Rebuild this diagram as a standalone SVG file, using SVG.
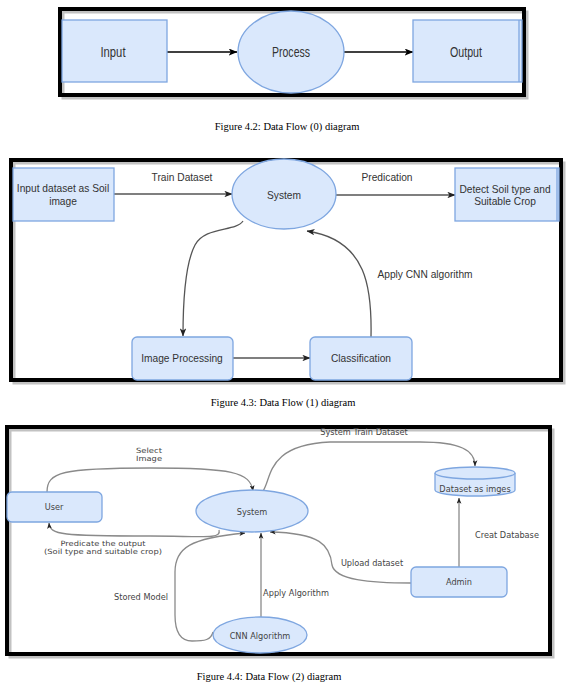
<svg xmlns="http://www.w3.org/2000/svg" width="570" height="686" viewBox="0 0 570 686">
<defs>
<style>
.frame{fill:none;stroke:#000;stroke-width:4}
.shadow{fill:none;stroke:#9a9a9a;stroke-width:3;opacity:0.6}
.box{fill:#dae8fc;stroke:#7ea6e0;stroke-width:1.3}
.t1{font-family:"Liberation Sans",Arial,sans-serif;font-size:14px;fill:#333;text-anchor:middle;dominant-baseline:central}
.t2{font-family:"Liberation Sans",Arial,sans-serif;font-size:10.2px;fill:#333;text-anchor:middle;dominant-baseline:central}
.t3{font-family:"DejaVu Sans",Verdana,sans-serif;font-size:8.2px;fill:#444;text-anchor:middle;dominant-baseline:central}
.t4{font-family:"DejaVu Sans",Verdana,sans-serif;font-size:7.2px;fill:#444;text-anchor:middle;dominant-baseline:central}
.cap{font-family:"Liberation Serif","Times New Roman",serif;font-size:10.5px;fill:#000;text-anchor:middle;dominant-baseline:central}
.e1{fill:none;stroke:#000;stroke-width:1.3}
.e2{fill:none;stroke:#555;stroke-width:1.3}
.e3{fill:none;stroke:#8a8a8a;stroke-width:1.3}
</style>
<marker id="m1" viewBox="0 0 10 8" refX="9.5" refY="4" markerWidth="9" markerHeight="7" markerUnits="userSpaceOnUse" orient="auto"><path d="M0,0 L10,4 L0,8 L2.5,4 z" fill="#000"/></marker>
<marker id="m2" viewBox="0 0 10 8" refX="9.5" refY="4" markerWidth="8" markerHeight="6.5" markerUnits="userSpaceOnUse" orient="auto"><path d="M0,0 L10,4 L0,8 L2.5,4 z" fill="#222"/></marker>
<marker id="m3" viewBox="0 0 10 8" refX="9.5" refY="4" markerWidth="6" markerHeight="5" markerUnits="userSpaceOnUse" orient="auto"><path d="M0,0 L10,4 L0,8 L2.5,4 z" fill="#222"/></marker>
</defs>
<rect width="570" height="686" fill="#fff"/>

<!-- Figure 4.2 -->
<g id="frame1">
<rect class="shadow" x="63" y="12" width="464" height="86"/>
<rect class="frame" x="60" y="9" width="464" height="86"/>
</g>
<g id="connectors1">
<path class="e1" d="M167,52 L237,52" marker-end="url(#m1)"/>
<path class="e1" d="M344,52 L413,52" marker-end="url(#m1)"/>
</g>
<g id="input0"><rect class="box" x="62" y="20" width="105" height="62"/><text class="t1" x="113" y="52" textLength="25" lengthAdjust="spacingAndGlyphs">Input</text></g>
<g id="process0"><ellipse class="box" cx="291" cy="52" rx="53" ry="41"/><text class="t1" x="291" y="52" textLength="38" lengthAdjust="spacingAndGlyphs">Process</text></g>
<g id="output0"><rect class="box" x="413" y="20" width="109" height="62"/><line x1="519" y1="20" x2="519" y2="82" stroke="#7ea6e0" stroke-width="1.3"/><text class="t1" x="466" y="52" textLength="32" lengthAdjust="spacingAndGlyphs">Output</text></g>
<text class="cap" x="287" y="126">Figure 4.2: Data Flow (0) diagram</text>

<!-- Figure 4.3 -->
<g id="frame2">
<rect class="shadow" x="14" y="163" width="550" height="220"/>
<rect class="frame" x="11" y="160" width="550" height="220"/>
</g>
<g id="connectors2">
<path class="e2" d="M114,194 L232,194" marker-end="url(#m2)"/>
<path class="e2" d="M336,195 L455,195" marker-end="url(#m2)"/>
<path class="e2" d="M243,221 C236,232 205,226 195,245 C186,262 183,300 183,336" marker-end="url(#m2)"/>
<path class="e2" d="M371,337 C372,290 368,240 307,231" marker-end="url(#m2)"/>
<path class="e2" d="M233,358 L310,358" marker-end="url(#m2)"/>
</g>
<text class="t2" x="182" y="177">Train Dataset</text>
<text class="t2" x="387" y="177">Predication</text>
<text class="t2" x="425" y="274">Apply CNN algorithm</text>
<g id="input1"><rect class="box" x="13" y="168" width="101" height="53"/><text class="t2" x="63" y="188">Input dataset as Soil</text><text class="t2" x="63" y="201">image</text></g>
<g id="system1"><ellipse class="box" cx="284" cy="194" rx="52" ry="35"/><text class="t2" x="284" y="195">System</text></g>
<g id="detect1"><rect class="box" x="455" y="168" width="104" height="53"/><line x1="557" y1="168" x2="557" y2="221" stroke="#7ea6e0" stroke-width="1.3"/><text class="t2" x="505" y="189">Detect Soil type and</text><text class="t2" x="505" y="201">Suitable Crop</text></g>
<g id="imgproc1"><rect class="box" x="132" y="337" width="101" height="43" rx="5"/><text class="t2" x="182" y="358">Image Processing</text></g>
<g id="classif1"><rect class="box" x="310" y="337" width="102" height="43" rx="5"/><text class="t2" x="361" y="358">Classification</text></g>
<text class="cap" x="283" y="402">Figure 4.3: Data Flow (1) diagram</text>

<!-- Figure 4.4 -->
<g id="frame3">
<rect class="shadow" x="10" y="430" width="543" height="227"/>
<rect class="frame" x="7" y="427" width="543" height="227"/>
</g>
<g id="connectors3">
<path class="e3" d="M47,492 C47,472 62,468 150,468 C232,468 250,472 253,491" marker-end="url(#m3)"/>
<path class="e3" d="M219,530 C222,540 200,536 150,536 C62,536 50,535 49,523" marker-end="url(#m3)"/>
<path class="e3" d="M263,491 C272,478 266,445 330,442 L420,442 C460,442 475,450 475,466" marker-end="url(#m3)"/>
<path class="e3" d="M459,567 L459,498" marker-end="url(#m3)"/>
<path class="e3" d="M411,583 C370,583 335,580 332,565 C330,545 320,533 270,532" marker-end="url(#m3)"/>
<path class="e3" d="M261,617 L261,533" marker-end="url(#m3)"/>
<path class="e3" d="M213,632 C211,640 205,641 192,641 C180,641 175,632 175,615 L175,572 C175,548 190,538 245,533" marker-end="url(#m3)"/>
</g>
<text class="t4" x="149" y="450" textLength="26" lengthAdjust="spacingAndGlyphs">Select</text>
<text class="t4" x="149" y="458.5" textLength="26" lengthAdjust="spacingAndGlyphs">Image</text>
<text class="t4" x="103" y="543" textLength="85" lengthAdjust="spacingAndGlyphs">Predicate the output</text>
<text class="t4" x="103" y="551.5" textLength="118" lengthAdjust="spacingAndGlyphs">(Soil type and suitable crop)</text>
<text class="t3" x="364" y="432">System Train Dataset</text>
<text class="t3" x="507" y="535">Creat Database</text>
<text class="t3" x="372" y="563">Upload dataset</text>
<text class="t3" x="296" y="593">Apply Algorithm</text>
<text class="t3" x="141" y="597">Stored Model</text>
<g id="user2"><rect class="box" x="7" y="492" width="95" height="30" rx="5"/><text class="t3" x="54" y="507">User</text></g>
<g id="system2"><ellipse class="box" cx="252" cy="511" rx="56" ry="21"/><text class="t3" x="252" y="512">System</text></g>
<g id="dataset2"><path class="box" d="M435,473 L435,490 A40,6 0 0 0 515,490 L515,473"/><ellipse class="box" cx="475" cy="473" rx="40" ry="6"/><text class="t3" x="475" y="489">Dataset as imges</text></g>
<g id="admin2"><rect class="box" x="411" y="567" width="96" height="30" rx="5"/><text class="t3" x="459" y="582">Admin</text></g>
<g id="cnn2"><ellipse class="box" cx="260" cy="635" rx="47" ry="18"/><text class="t3" x="260" y="636">CNN Algorithm</text></g>
<text class="cap" x="269" y="676">Figure 4.4: Data Flow (2) diagram</text>
</svg>
